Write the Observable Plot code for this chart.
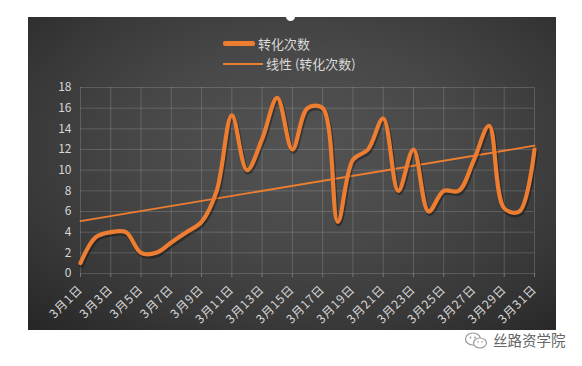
<!DOCTYPE html>
<html>
<head>
<meta charset="utf-8">
<script src="https://cdn.jsdelivr.net/npm/d3@7"></script>
<script src="https://cdn.jsdelivr.net/npm/@observablehq/plot@0.6"></script>
<style>
  html, body { margin: 0; padding: 0; background: #fff; width: 582px; height: 366px; overflow: hidden; }
  body { font-family: "Noto Sans CJK SC", "Noto Sans", sans-serif; position: relative; }
  #card {
    position: absolute; left: 28px; top: 17px; width: 528px; height: 313px;
    background: radial-gradient(ellipse 75% 80% at 52% 42%, #535353 0%, #484848 40%, #383838 72%, #262626 100%);
    overflow: hidden;
  }
  #chart { position: absolute; left: 0; top: 60px; }
  .leg { position: absolute; left: 195px; display: flex; align-items: center; color: #d9d9d9; font-size: 13px; white-space: nowrap; }
  .leg .sw { display: inline-block; background: #ED7D31; }
  #wm { position: absolute; left: 493px; top: 329px; font-size: 14.5px; color: #666; }
  #icon { position: absolute; left: 464px; top: 331px; }
  #blob { position: absolute; left: 286px; top: 13px; width: 9px; height: 8px; border-radius: 50%; background: #fff; }
  #chart svg g[aria-label="x-axis tick label"] text { letter-spacing: 0.8px; }
</style>
</head>
<body>
<div id="card">
  <div class="leg" style="top:17px;"><span class="sw" style="width:32px;height:5px;border-radius:2px;"></span><span style="margin-left:3px;">转化次数</span></div>
  <div class="leg" style="top:37px;"><span class="sw" style="width:40px;height:2px;"></span><span style="margin-left:3px;">线性 (转化次数)</span></div>
  <div id="chart"></div>
</div>
<div id="blob"></div>
<svg id="icon" width="26" height="20" viewBox="0 0 26 20">
  <ellipse cx="9" cy="8" rx="7.5" ry="6" fill="none" stroke="#999" stroke-width="1.2"/>
  <ellipse cx="16" cy="12" rx="6.5" ry="5" fill="#fff" stroke="#999" stroke-width="1.2"/>
  <circle cx="6.5" cy="6.5" r="0.9" fill="#999"/><circle cx="11" cy="6.5" r="0.9" fill="#999"/>
  <circle cx="14" cy="11" r="0.8" fill="#999"/><circle cx="18" cy="11" r="0.8" fill="#999"/>
</svg>
<div id="wm">丝路资学院</div>
<script>
const days = [1,2,3,4,5,6,7,8,9,10,11,12,13,14,15,16,17,18,19,20,21,22,23,24,25,26,27,28,29,30,31];
const conversions = [1,3.5,4,4,2,2,3,4,5,8,15.3,10,13,17,12,16,16,5,11,12,15,8,12,6,8,8,11,14.3,6.3,6,12];
const tickDays = [1,3,5,7,9,11,13,15,17,19,21,23,25,27,29,31];
const tickLabels = ["3月1日","3月3日","3月5日","3月7日","3月9日","3月11日","3月13日","3月15日","3月17日","3月19日","3月21日","3月23日","3月25日","3月27日","3月29日","3月31日"];
const yTicks = [0,2,4,6,8,10,12,14,16,18];

const data = days.map((d, i) => ({day: d, value: conversions[i]}));
const orange = "#ED7D31";

const chart = Plot.plot({
  width: 528,
  height: 253,
  marginLeft: 52,
  marginRight: 22,
  marginTop: 10,
  marginBottom: 57,
  style: {background: "transparent", color: "#d6d6d6", fontFamily: "'Noto Sans CJK SC', sans-serif", fontSize: "11.5px"},
  x: {domain: [1, 31], label: null},
  y: {domain: [0, 18], label: null},
  marks: [
    Plot.gridX(tickDays, {stroke: "#ffffff", strokeOpacity: 0.16, strokeWidth: 1}),
    Plot.gridY(yTicks, {stroke: "#ffffff", strokeOpacity: 0.16, strokeWidth: 1}),
    Plot.axisY({ticks: yTicks, tickSize: 0, tickPadding: 9, fill: "#d6d6d6", label: null, fontSize: 12}),
    Plot.axisX({ticks: tickDays, tickRotate: -45, tickSize: 4, tickPadding: 10, stroke: "#777", fill: "#d6d6d6", label: null, fontSize: 12,
      tickFormat: d => tickLabels[tickDays.indexOf(d)]}),
    Plot.linearRegressionY(data, {x: "day", y: "value", stroke: orange, strokeWidth: 1.8, ci: 0}),
    Plot.line(data, {x: "day", y: "value", curve: "catmull-rom", stroke: "#000", strokeOpacity: 0.35, strokeWidth: 5, dx: 1, dy: 2}),
    Plot.line(data, {x: "day", y: "value", curve: "catmull-rom", stroke: orange, strokeWidth: 4.2})
  ]
});
document.getElementById("chart").appendChild(chart);
</script>
</body>
</html>
